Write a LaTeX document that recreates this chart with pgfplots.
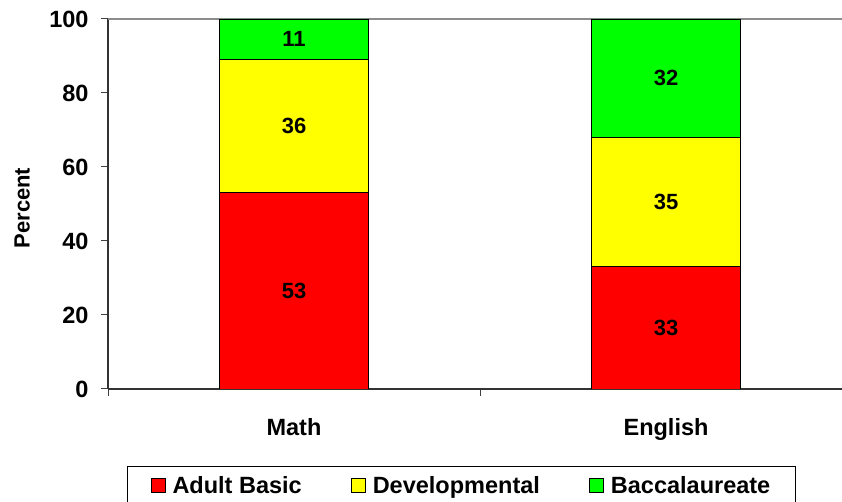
\documentclass[border=0pt]{standalone}
\usepackage{pgfplots}
\usepackage{pgfplotstable}
\pgfplotsset{compat=1.18}
\usepackage{fontspec}
\setmainfont{Liberation Sans}

\definecolor{abred}{RGB}{255,0,0}
\definecolor{devyellow}{RGB}{255,255,0}
\definecolor{bacgreen}{RGB}{0,255,0}
\newcommand{\lab}{\fontsize{23.5pt}{27pt}\selectfont\bfseries}
\newcommand{\vlab}{\fontsize{22pt}{26pt}\selectfont\bfseries}

% Percent of students placed at each level, by subject (0 = Math, 1 = English)
\pgfplotstableread{
x y
0 53
1 33
}\adultbasic
\pgfplotstableread{
x y
0 36
1 35
}\developmental
\pgfplotstableread{
x y
0 11
1 32
}\baccalaureate

\begin{document}
\begin{tikzpicture}[x=1pt,y=1pt]
\useasboundingbox (0,0) rectangle (842,502);
\begin{axis}[
  at={(108pt,113pt)}, anchor=south west,
  scale only axis, width=734pt, height=370pt,
  xmin=-0.5, xmax=1.473, ymin=0, ymax=100,
  ybar stacked, bar width=149pt,
  axis x line*=bottom, axis y line*=left,
  axis line style={-, line width=1.2pt, black!80},
  tick align=outside, major tick length=7pt,
  tick style={black!75, line width=1pt},
  ytick={0,20,...,100},
  xtick={-0.5,0.5}, xticklabels={},
  extra x ticks={0,1}, extra x tick labels={Math,English},
  extra x tick style={major tick length=0pt,
    xticklabel style={anchor=base, yshift=-47pt}},
  extra y ticks={100}, extra y tick labels={},
  extra y tick style={grid=major, major tick length=0pt,
    major grid style={black!45, line width=1.2pt}},
  ticklabel style={font=\lab},
  /pgf/number format/assume math mode=true,
  yticklabel style={xshift=-9pt},
  ylabel={Percent},
  every axis y label/.style={at={(axis description cs:-0.117,0.489)},
    rotate=90, anchor=center, font=\vlab},
  legend columns=3,
  legend style={at={(axis description cs:0.0259,-0.2081)}, anchor=north west,
    draw=black, line width=1pt, font=\lab, inner xsep=23pt, inner ysep=8pt,
    /tikz/every odd column/.append style={column sep=5pt},
    /tikz/every even column/.append style={column sep=47pt}},
  legend image code/.code={\draw[#1, draw=black, line width=1pt] (0pt,-7pt) rectangle (14pt,7pt);},
  % value labels: each segment's own value, centred in the segment
  every node near coord/.style={font=\vlab, black, anchor=center},
  segment labels/.style={
    visualization depends on={rawy \as \val},
    nodes near coords={\pgfmathprintnumber{\val}}},
]
\addplot[fill=abred, draw=black, line width=0.9pt, segment labels] table[x=x, y=y] {\adultbasic};
\addplot[fill=devyellow, draw=black, line width=0.9pt, segment labels] table[x=x, y=y] {\developmental};
\addplot[fill=bacgreen, draw=black, line width=0.9pt, segment labels] table[x=x, y=y] {\baccalaureate};
\legend{Adult Basic, Developmental, Baccalaureate}
\end{axis}
\end{tikzpicture}
\end{document}
